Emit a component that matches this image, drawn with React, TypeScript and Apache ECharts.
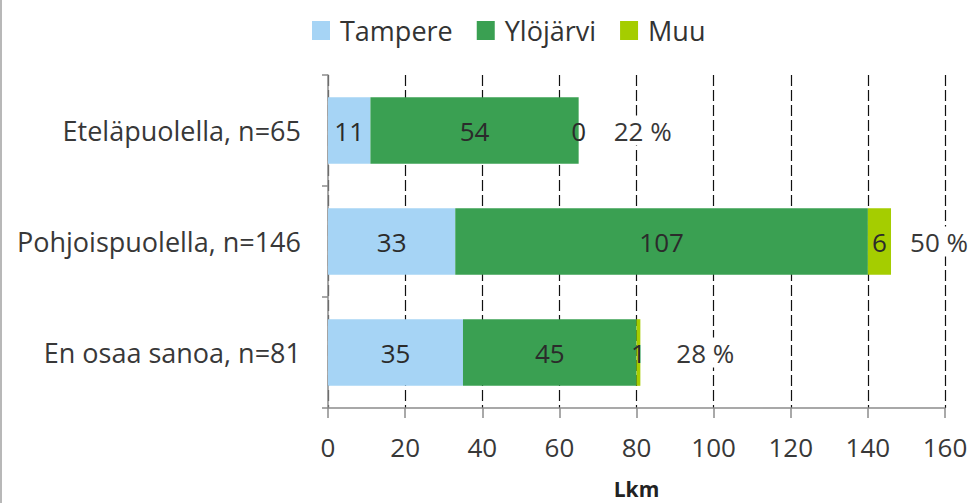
import React, { useEffect, useRef } from "react";
import * as echarts from "echarts";

const categories = ["Eteläpuolella, n=65", "Pohjoispuolella, n=146", "En osaa sanoa, n=81"];
const tampere = [11, 33, 35];
const ylojarvi = [54, 107, 45];
const muu = [0, 6, 1];
const shares = ["22 %", "50 %", "28 %"];
const xTicks = { min: 0, max: 160, interval: 20 };

const shareLabelGap = [33, 17, 34];
const FONT = "'Open Sans', sans-serif";

export default function App() {
  const ref = useRef<HTMLDivElement>(null);
  useEffect(() => {
    document.body.style.margin = "0";
    const chart = echarts.init(ref.current!, null, { renderer: "svg" });
    const inside = {
      show: true,
      position: "inside",
      fontFamily: FONT,
      fontSize: 26,
      color: "#2b2b2b",
    };
    chart.setOption({
      animation: false,
      textStyle: { fontFamily: FONT },
      legend: {
        data: ["Tampere", "Ylöjärvi", "Muu"],
        top: 12,
        left: 307,
        itemWidth: 18,
        itemHeight: 19,
        itemGap: 24,
        icon: "rect",
        textStyle: { fontFamily: FONT, fontSize: 27, color: "#333", padding: [0, 0, 0, 5] },
      },
      grid: {
        left: 328,
        right: 30,
        top: 75,
        bottom: 95,
        containLabel: false,
        outerBoundsMode: "none",
      },
      xAxis: {
        type: "value",
        min: xTicks.min,
        max: xTicks.max,
        interval: xTicks.interval,
        name: "Lkm",
        nameLocation: "middle",
        nameGap: 70,
        nameTextStyle: { fontFamily: FONT, fontSize: 21, fontWeight: "bold", color: "#222" },
        axisLine: { show: true, lineStyle: { color: "#8c8c8c", width: 1.5 } },
        axisTick: { show: true, length: 10, lineStyle: { color: "#8c8c8c", width: 1.5 } },
        axisLabel: { fontFamily: FONT, fontSize: 26, color: "#383838", margin: 26 },
        splitLine: { show: true, lineStyle: { color: "#111", width: 1.2, type: [11, 4] } },
      },
      yAxis: {
        type: "category",
        data: categories,
        inverse: true,
        axisLine: { show: true, lineStyle: { color: "#8c8c8c", width: 1.5 } },
        axisTick: { show: true, length: 6, lineStyle: { color: "#8c8c8c", width: 1.5 } },
        axisLabel: { fontFamily: FONT, fontSize: 27, color: "#383838", margin: 27 },
        splitLine: { show: false },
      },
      series: [
        {
          name: "Tampere",
          type: "bar",
          stack: "total",
          barCategoryGap: "40%",
          data: tampere,
          itemStyle: { color: "#a6d4f5" },
          label: inside,
        },
        {
          name: "Ylöjärvi",
          type: "bar",
          stack: "total",
          data: ylojarvi,
          itemStyle: { color: "#3aa052" },
          label: inside,
        },
        {
          name: "Muu",
          type: "bar",
          stack: "total",
          data: muu,
          itemStyle: { color: "#a5cd00" },
          label: inside,
        },
        {
          name: "Osuus",
          type: "bar",
          stack: "total",
          silent: true,
          data: shares.map((s, i) => ({
            value: 0,
            label: {
              show: true,
              position: "right",
              distance: shareLabelGap[i],
              formatter: () => s,
              fontFamily: FONT,
              fontSize: 26,
              color: "#383838",
              backgroundColor: "#ffffff",
              padding: [2, 2, 2, 2],
            },
          })),
          itemStyle: { color: "transparent" },
        },
      ],
      graphic: [
        {
          type: "line",
          shape: { x1: 1, y1: 0, x2: 1, y2: 503 },
          style: { stroke: "#a0a0a0", lineWidth: 1.5 },
        },
      ],
    });
    return () => chart.dispose();
  }, []);
  return <div ref={ref} style={{ width: 975, height: 503 }} />;
}
